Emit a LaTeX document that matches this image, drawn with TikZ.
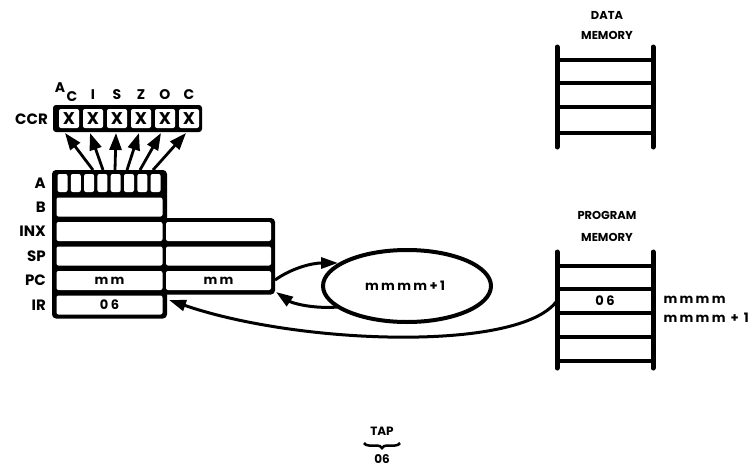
\documentclass[tikz,border=0pt]{standalone}
\usepackage{fontspec}
\setmainfont{Poppins}
\newfontfamily\spc[LetterSpace=18]{Poppins}
\usetikzlibrary{arrows.meta,decorations.pathreplacing}
\begin{document}
\begin{tikzpicture}[x=1pt,y=-1pt,
  lbl/.style={font=\bfseries\fontsize{15}{15}\selectfont, anchor=east, inner sep=0pt},
  flag/.style={font=\bfseries\fontsize{14}{14}\selectfont, inner sep=0pt},
  cell/.style={fill=white, rounded corners=2pt, inner sep=0pt, minimum height=19pt},
  lcell/.style={cell, minimum width=106pt},
  rcell/.style={cell, minimum width=105pt},
  bit/.style={cell, minimum width=10pt, minimum height=18pt},
  ccell/.style={cell, minimum width=20pt, minimum height=19pt, font=\bfseries\fontsize{17}{17}\selectfont},
  val/.style={font=\bfseries\spc\fontsize{13}{13}\selectfont},
  memlbl/.style={font=\bfseries\fontsize{11.5}{11.5}\selectfont, inner sep=0pt},
  rail/.style={line width=5pt, line cap=round},
  slot/.style={line width=4pt},
  fan/.style={line width=2.8pt, -{Triangle[length=17pt,width=12pt]}},
  arr/.style={line width=3pt, -{Triangle[length=17pt,width=11pt]}}
]
\useasboundingbox (0,0) rectangle (756,469);

% ---------- register frame ----------
\fill[rounded corners=4pt] (52,170) rectangle (167,318.5);
\fill[rounded corners=4pt] (160,218) rectangle (275,294.5);

% A register bits
\foreach \i in {0,...,7} {
  \node[bit] (a\i) at (62.5+13.3*\i,183) {};
}
% left column cells
\node[lcell] (bc) at (109.5,207) {};
\node[lcell] (xc) at (109.5,231.5) {};
\node[lcell] (sc) at (109.5,256) {};
\node[lcell,val] (pc) at (109.5,280.5) {mm};
\node[lcell,val] (ir) at (109.5,305) {06};
% right column cells
\node[rcell] (xr) at (218.5,231.5) {};
\node[rcell] (sr) at (218.5,256) {};
\node[rcell,val] (pr) at (218.5,280.5) {mm};

% register labels
\node[lbl] (la) at (46,183) {A};
\node[lbl] (lb) at (46,207) {B};
\node[lbl] (lx) at (46,231.5) {INX};
\node[lbl] (ls) at (46,256) {SP};
\node[lbl] (lp) at (46,280.5) {PC};
\node[lbl] (li) at (46,305) {IR};

% ---------- CCR ----------
\fill[rounded corners=3pt] (53,105) rectangle (202,132);
\foreach \i in {1,...,6} {
  \node[ccell] (c\i) at (45+24*\i,118.5) {X};
}
\node[lbl] (lccr) at (48,119) {CCR};
\node[flag] (fa) at (60,88) {A};
\node[flag] (fc1) at (72,97) {C};
\node[flag] (fi) at (93,95) {I};
\node[flag] (fs) at (117,95) {S};
\node[flag] (fz) at (141,95) {Z};
\node[flag] (fo) at (165,95) {O};
\node[flag] (fc2) at (189,95) {C};

% fan arrows from A to CCR
\coordinate (s1) at (93,170);  \coordinate (t1) at (65,133);
\coordinate (s2) at (103,170); \coordinate (t2) at (90,133);
\coordinate (s3) at (115,170); \coordinate (t3) at (116,133);
\coordinate (s4) at (127,170); \coordinate (t4) at (139,133);
\coordinate (s5) at (140,170); \coordinate (t5) at (161,133);
\coordinate (s6) at (153,170); \coordinate (t6) at (186,133);
\foreach \i in {1,...,6} { \draw[fan] (s\i) -- (t\i); }

% ---------- ellipse ----------
\draw[line width=4pt] (407,286) ellipse [x radius=84, y radius=36];
\node[val] (inc) at (405,286) {mmmm+1};
\coordinate (pcout) at (275,280);
\coordinate (elin) at (338,263);
\coordinate (elout) at (338,307);
\coordinate (pcin) at (276,292);
\draw[arr] (pcout) .. controls (292,268) and (312,263) .. (elin);
\draw[arr] (elout) .. controls (312,309) and (292,303) .. (pcin);

% ---------- data memory ----------
\node[memlbl] (dl1) at (607,15) {DATA};
\node[memlbl] (dl2) at (607,35) {MEMORY};
\foreach \y in {60,83,107,133} { \draw[slot] (557,\y) -- (653,\y); }
\draw[rail] (557,47) -- (557,147);
\draw[rail] (653,47) -- (653,147);

% ---------- program memory ----------
\node[memlbl] (pl1) at (607,215) {PROGRAM};
\node[memlbl] (pl2) at (607,237) {MEMORY};
\foreach \y in {266,289,313,337,361} { \draw[slot] (557,\y) -- (653,\y); }
\draw[rail] (557,252) -- (557,368);
\draw[rail] (653,252) -- (653,368);
\node[val, minimum width=96pt, inner sep=0pt] (pm06) at (605,301) {06};
\node[val, anchor=west] (addr1) at (660,300) {mmmm};
\node[val, anchor=west] (addr2) at (660,318) {mmmm + 1};

% fetch arrow to IR
\coordinate (irin) at (169,300);
\draw[arr] (pm06.west) .. controls (520,352) and (300,345) .. (irin);

% ---------- TAP ----------
\node[font=\bfseries\fontsize{12}{12}\selectfont, inner sep=0pt] (tap) at (382,431) {TAP};
\draw[line width=2.5pt, decorate, decoration={brace, amplitude=5pt}] (400,443) -- (364,443);
\node[font=\bfseries\fontsize{12}{12}\selectfont, inner sep=0pt] (tapv) at (382,459) {06};
\end{tikzpicture}
\end{document}
